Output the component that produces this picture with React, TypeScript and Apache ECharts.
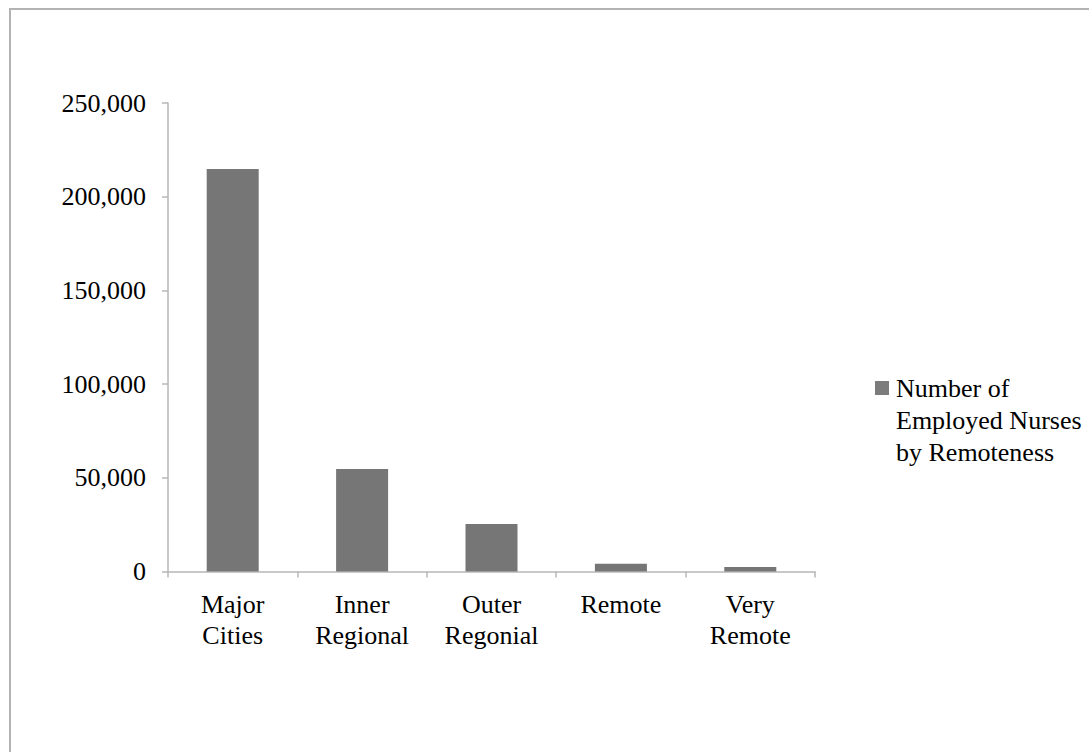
import React, { useEffect, useRef } from "react";
import * as echarts from "echarts";

const categories = ["Major\nCities", "Inner\nRegional", "Outer\nRegonial", "Remote", "Very\nRemote"];
const seriesName = "Number of Employed Nurses by Remoteness";
const legendLines = ["Number of", "Employed Nurses", "by Remoteness"];
const nurses = [214800, 54700, 25400, 4200, 2400];
const yMax = 250000;
const yStep = 50000;

const FONT = "'Liberation Serif', 'Times New Roman', serif";
const AXIS_GRAY = "#b7b7b7";
const BAR_GRAY = "#767676";
const LINE_H = 32;

export default function App() {
  const ref = useRef<HTMLDivElement>(null);

  useEffect(() => {
    if (!ref.current) return;
    const chart = echarts.init(ref.current, null, { renderer: "svg" });
    // The swatch sits beside the first line of the legend label; the
    // wrapped remainder is placed underneath as a text graphic.
    const swatchCenterY = 388;
    const legendLeft = 875;
    const swatch = 14;
    const textPad = 2;
    const textX = legendLeft + swatch + 5 + textPad;
    const legendTop = swatchCenterY - LINE_H / 2;
    chart.setOption({
      animation: false,
      backgroundColor: "#ffffff",
      textStyle: { fontFamily: FONT },
      graphic: [
        {
          type: "rect",
          shape: { x: 10, y: 9, width: 1200, height: 900 },
          style: { fill: "none", stroke: "#b3b3b3", lineWidth: 2 },
          silent: true,
        },
        {
          type: "text",
          x: textX,
          y: legendTop + LINE_H,
          silent: true,
          style: {
            text: legendLines.slice(1).join("\n"),
            font: `26px ${FONT}`,
            fill: "#000",
            lineHeight: LINE_H,
            verticalAlign: "top",
            align: "left",
          },
        },
      ],
      grid: { left: 168, right: 274, top: 103, bottom: 180.5, containLabel: false },
      legend: {
        orient: "vertical",
        left: legendLeft,
        top: legendTop,
        padding: 0,
        icon: "rect",
        itemWidth: swatch,
        itemHeight: swatch,
        data: [{ name: seriesName, itemStyle: { color: "#7c7c7c" } }],
        formatter: () => legendLines[0],
        textStyle: {
          fontFamily: FONT,
          fontSize: 26,
          color: "#000",
          lineHeight: LINE_H,
          padding: [0, 0, 0, textPad],
        },
      },
      xAxis: {
        type: "category",
        data: categories,
        axisLine: { lineStyle: { color: AXIS_GRAY, width: 1.5 } },
        axisTick: { show: true, length: 6, lineStyle: { color: AXIS_GRAY, width: 1.5 } },
        axisLabel: {
          fontFamily: FONT,
          fontSize: 26,
          color: "#000",
          lineHeight: 31,
          margin: 17,
          verticalAlign: "top",
        },
      },
      yAxis: {
        type: "value",
        min: 0,
        max: yMax,
        interval: yStep,
        splitLine: { show: false },
        axisLine: { show: true, lineStyle: { color: AXIS_GRAY, width: 1.5 } },
        axisTick: { show: true, length: 6, lineStyle: { color: AXIS_GRAY, width: 1.5 } },
        axisLabel: {
          fontFamily: FONT,
          fontSize: 26,
          color: "#000",
          margin: 22,
          formatter: (v: number) => v.toLocaleString("en-US"),
        },
      },
      series: [
        {
          name: seriesName,
          type: "bar",
          data: nurses,
          barWidth: 52,
          itemStyle: { color: BAR_GRAY },
        },
      ],
    });
    return () => chart.dispose();
  }, []);

  return (
    <div
      ref={ref}
      style={{ position: "fixed", left: 0, top: 0, width: 1089, height: 752 }}
    />
  );
}
